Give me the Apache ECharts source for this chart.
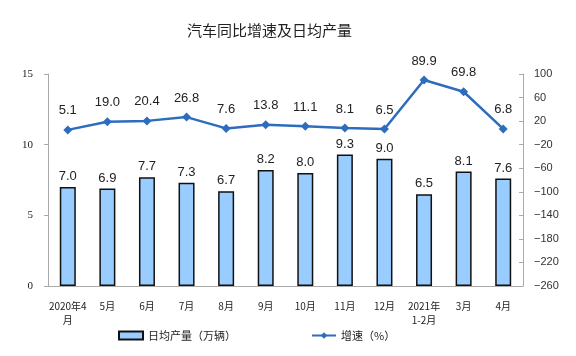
<!DOCTYPE html>
<html><head><meta charset="utf-8">
<script src="https://cdn.jsdelivr.net/npm/echarts@6/dist/echarts.min.js"></script>
<style>html,body{margin:0;padding:0;background:#fff}#c{width:576px;height:356px}</style>
</head><body><div id="c"></div>
<script>
const categories = ['2020年4\n月','5月','6月','7月','8月','9月','10月','11月','12月','2021年\n1-2月','3月','4月'];
const dailyOutput = [7.0,6.9,7.7,7.3,6.7,8.2,8.0,9.3,9.0,6.5,8.1,7.6];
const growth = [5.1,19.0,20.4,26.8,7.6,13.8,11.1,8.1,6.5,89.9,69.8,6.8];
const title = '汽车同比增速及日均产量';
const barName = '日均产量（万辆）';
const lineName = '增速（%）';

const chart = echarts.init(document.getElementById('c'));
chart.setOption({
  animation: false,
  backgroundColor: '#fff',
  title: { text: title, left: 182, top: 18, textStyle: { fontFamily: 'Noto Sans CJK SC', fontSize: 15, fontWeight: 'normal', color: '#222' } },
  legend: [
    { data: [{ name: barName, icon: 'rect' }], left: 113, top: 325, itemWidth: 24, itemHeight: 8, itemGap: 4, textStyle: { fontFamily: 'Noto Sans CJK SC', fontSize: 11, color: '#222' } },
    { data: [lineName], left: 306, top: 325, itemWidth: 24, itemHeight: 8, textStyle: { fontFamily: 'Noto Sans CJK SC', fontSize: 11, color: '#222' } }
  ],
  grid: { left: 48, right: 53, top: 74, bottom: 70 },
  xAxis: {
    type: 'category', data: categories, boundaryGap: true,
    axisLine: { lineStyle: { color: '#aaa' } },
    axisTick: { inside: true, length: 4, lineStyle: { color: '#aaa' } },
    axisLabel: { fontFamily: 'Noto Sans CJK SC', fontSize: 10, color: '#222', interval: 0, margin: 13, lineHeight: 14 }
  },
  yAxis: [
    { type: 'value', min: 0, max: 15, interval: 5,
      axisLine: { show: true, lineStyle: { color: '#aaa' } },
      axisTick: { show: true, length: 4, lineStyle: { color: '#aaa' } },
      splitLine: { show: false },
      axisLabel: { fontFamily: 'Liberation Serif', fontSize: 11, color: '#222', margin: 15 } },
    { type: 'value', min: -260, max: 100, interval: 40,
      axisLine: { show: true, lineStyle: { color: '#aaa' } },
      axisTick: { show: true, inside: true, length: 4, lineStyle: { color: '#aaa' } },
      splitLine: { show: false },
      axisLabel: { fontFamily: 'Liberation Sans', fontSize: 11, color: '#333', margin: 11,
        formatter: v => String(v).replace('-', '−') } }
  ],
  series: [
    { name: barName, type: 'bar', data: dailyOutput, yAxisIndex: 0, barWidth: 16,
      itemStyle: { color: '#99ccff', borderColor: '#111', borderWidth: 1.5 },
      label: { show: true, position: 'top', distance: 4, fontFamily: 'Liberation Sans', fontSize: 13, color: '#222', formatter: p => p.value.toFixed(1) } },
    { name: lineName, type: 'line', data: growth, yAxisIndex: 1,
      symbol: 'diamond', symbolSize: 9,
      lineStyle: { color: '#2e6cbe', width: 2.5 },
      itemStyle: { color: '#2e6cbe' },
      label: { show: true, position: 'top', distance: 8, fontFamily: 'Liberation Sans', fontSize: 13, color: '#222', formatter: p => p.value.toFixed(1) } }
  ]
});
</script></body></html>
